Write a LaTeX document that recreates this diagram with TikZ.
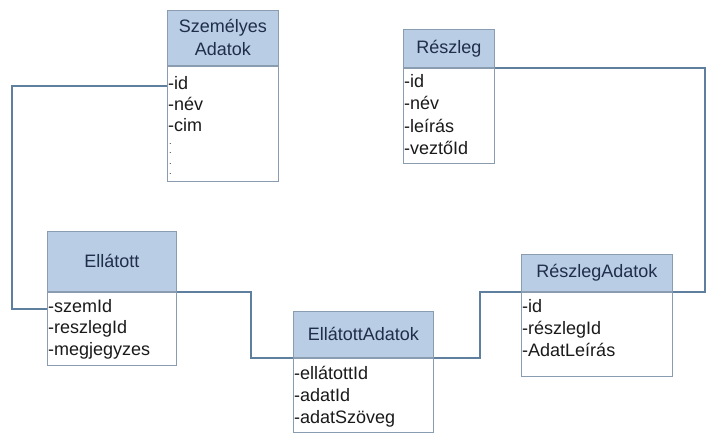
\documentclass[tikz,border=0pt]{standalone}
\usepackage{fontspec}
\setmainfont{Liberation Sans}
\definecolor{hdrfill}{HTML}{B9CDE5}
\definecolor{boxline}{HTML}{8A9CB0}
\definecolor{connline}{HTML}{5F7F9E}
\definecolor{hdrtext}{HTML}{1F2E4A}
\definecolor{attrtext}{HTML}{1A1A1A}
\begin{document}
\begin{tikzpicture}[x=1pt,y=-1pt,
  hdr/.style={draw=boxline, line width=0.9pt, fill=hdrfill, anchor=north west,
    inner sep=0pt, align=center, text=hdrtext,
    font=\fontsize{18}{23}\selectfont},
  body/.style={draw=boxline, line width=0.9pt, fill=white, anchor=north west, inner sep=0pt},
  attr/.style={anchor=base west, inner sep=0pt, text=attrtext,
    font=\fontsize{18}{21.5}\selectfont},
  dot/.style={anchor=base west, inner sep=0pt, text=attrtext,
    font=\fontsize{9}{9}\selectfont},
  conn/.style={draw=connline, line width=2.4pt}]
\useasboundingbox (0,0) rectangle (706,432);

% Személyes Adatok
\node[hdr, minimum width=111, minimum height=55] (szH) at (167,10) {Személyes\\Adatok};
\node[body, minimum width=111, minimum height=115] (szB) at (szH.south west) {};
\foreach \t [count=\i] in {-id,-név,-cim}
  \node[attr] (sz-\i) at ([xshift=1pt,yshift={-(24+(\i-1)*21)*1pt}]szH.south west) {\t};
\foreach \d [count=\i] in {143,152,163,173}
  \node[dot] (szd-\i) at ([xshift=2pt,yshift={-(\d-65+1)*1pt}]szH.south west) {.};

% Részleg
\node[hdr, minimum width=91, minimum height=38] (reH) at (403,29) {Részleg};
\node[body, minimum width=91, minimum height=95] (reB) at (reH.south west) {};
\foreach \t [count=\i] in {-id,-név,-leírás,-veztőId}
  \node[attr] (re-\i) at ([xshift=1pt,yshift={-(19.5+(\i-1)*22.3)*1pt}]reH.south west) {\t};

% Ellátott
\node[hdr, minimum width=129, minimum height=60] (elH) at (47,231) {Ellátott};
\node[body, minimum width=129, minimum height=73] (elB) at (elH.south west) {};
\foreach \t [count=\i] in {-szemId,-reszlegId,-megjegyzes}
  \node[attr] (el-\i) at ([xshift=1pt,yshift={-(20.5+(\i-1)*21.5)*1pt}]elH.south west) {\t};

% EllátottAdatok
\node[hdr, minimum width=140, minimum height=46] (eaH) at (293,311) {EllátottAdatok};
\node[body, minimum width=140, minimum height=74] (eaB) at (eaH.south west) {};
\foreach \t [count=\i] in {-ellátottId,-adatId,-adatSzöveg}
  \node[attr] (ea-\i) at ([xshift=1pt,yshift={-(21.5+(\i-1)*22)*1pt}]eaH.south west) {\t};

% RészlegAdatok
\node[hdr, minimum width=151, minimum height=37] (raH) at (521,254) {RészlegAdatok};
\node[body, minimum width=151, minimum height=84] (raB) at (raH.south west) {};
\foreach \t [count=\i] in {-id,-részlegId,-AdatLeírás}
  \node[attr] (ra-\i) at ([xshift=1pt,yshift={-(20.5+(\i-1)*22)*1pt}]raH.south west) {\t};

% connectors
\draw[conn] ([yshift=-20pt]szB.north west) -- ++(-155,0) |- ([yshift=-17pt]elB.north west);
\draw[conn] (elH.south east) -- ++(74,0) |- (eaH.south west);
\draw[conn] (eaH.south east) -- ++(46,0) |- (raH.south west);
\draw[conn] (raH.south east) -- ++(32,0) |- (reH.south east);
\end{tikzpicture}
\end{document}
